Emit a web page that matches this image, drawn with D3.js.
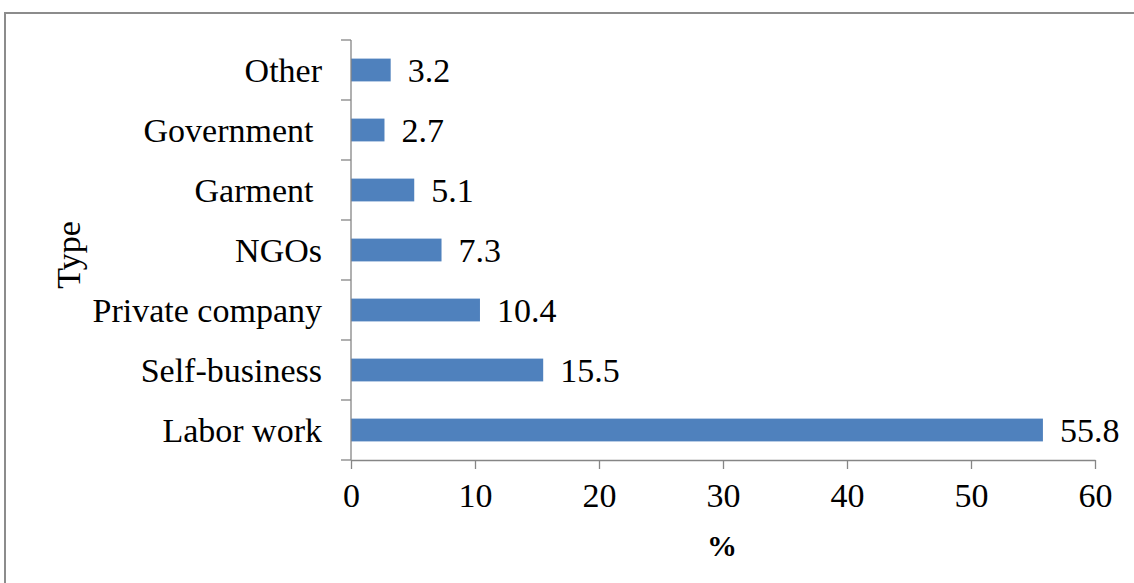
<!DOCTYPE html>
<html><head><meta charset="utf-8">
<script src="https://cdn.jsdelivr.net/npm/d3@7"></script>
<style>body{margin:0;background:#fff}svg{display:block}text{font-family:"Liberation Serif","Times New Roman",serif;white-space:pre}</style>
</head><body>
<svg id="c" width="1134" height="583"></svg>
<script>
const categories = ["Other","Government ","Garment ","NGOs","Private company","Self-business","Labor work"];
const values = [3.2,2.7,5.1,7.3,10.4,15.5,55.8];
const xTicks = [0,10,20,30,40,50,60];

const svg = d3.select("#c");
svg.append("rect").attr("x",5).attr("y",13).attr("width",1140).attr("height",600)
  .attr("fill","none").attr("stroke","#8c8c8c").attr("stroke-width",2);

const x = d3.scaleLinear().domain([0,60]).range([351,1095]);
const y = d3.scaleBand().domain(categories).range([40,460]).paddingInner(0.62).paddingOuter(0.31);
const yb = d3.scaleBand().domain(categories).range([40,460]);

const axisColor = "#868686";
const FS = 34;
// bars
svg.selectAll("rect.bar").data(values).join("rect").attr("class","bar")
  .attr("x",x(0)).attr("y",(d,i)=>y(categories[i])).attr("width",d=>x(d)-x(0))
  .attr("height",y.bandwidth()).attr("fill","#4F81BD");
svg.selectAll("text.val").data(values).join("text").attr("class","val")
  .attr("x",d=>x(d)+17).attr("y",(d,i)=>y(categories[i])+y.bandwidth()/2).attr("dy","0.35em")
  .attr("font-size",FS).text(d=>d.toFixed(1));

// x axis
const xa = svg.append("g").attr("transform","translate(0,460)")
  .call(d3.axisBottom(x).tickValues(xTicks).tickSize(9).tickSizeOuter(0).tickPadding(14));
xa.select(".domain").attr("stroke",axisColor).attr("stroke-width",1.3);
xa.selectAll(".tick line").attr("stroke",axisColor).attr("stroke-width",1.3);
xa.selectAll(".tick text").attr("font-size",FS).attr("fill","#000")
  .style("font-family","'Liberation Serif',serif");

// y axis
svg.append("line").attr("x1",351).attr("x2",351).attr("y1",40).attr("y2",460)
  .attr("stroke",axisColor).attr("stroke-width",1.3);
const yTickPos = categories.map(c=>yb(c)).concat([460]);
svg.selectAll("line.yt").data(yTickPos).join("line").attr("class","yt")
  .attr("x1",341).attr("x2",351).attr("y1",d=>d).attr("y2",d=>d)
  .attr("stroke",axisColor).attr("stroke-width",1.3);
svg.selectAll("text.cat").data(categories).join("text").attr("class","cat")
  .attr("x",322).attr("y",c=>yb(c)+yb.bandwidth()/2).attr("dy","0.35em")
  .attr("text-anchor","end").attr("font-size",FS).text(c=>c);

svg.append("text").attr("transform","translate(68,255) rotate(-90)").attr("text-anchor","middle")
  .attr("dy","0.35em").attr("font-size",FS).text("Type");
svg.append("text").attr("x",722).attr("y",545).attr("text-anchor","middle").attr("dy","0.35em")
  .attr("font-size",30).attr("font-weight","bold").text("%");
</script>
</body></html>
